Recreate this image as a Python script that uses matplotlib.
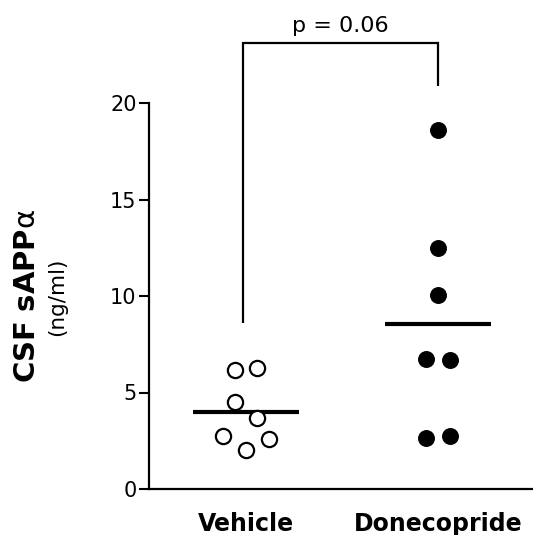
import matplotlib
matplotlib.use("Agg")
import matplotlib.pyplot as plt
import numpy as np

plt.rcParams['font.family'] = ['DejaVu Sans']
plt.rcParams['mathtext.fontset'] = 'dejavusans'

# ---- data ----
categories = ["Vehicle", "Donecopride"]
vehicle = [6.17, 6.27, 4.5, 3.68, 2.75, 2.6, 2.02]
donecopride = [18.6, 12.49, 10.05, 6.74, 6.68, 2.64, 2.75]
y_ticks = [0, 5, 10, 15, 20]
p_text = "p = 0.06"

# horizontal scatter offsets (layout only)
vehicle_jitter = [-0.057, 0.057, -0.057, 0.057, -0.12, 0.12, 0.0]
donecopride_jitter = [0.0, 0.0, 0.0, -0.0625, 0.0625, -0.0625, 0.0625]

W, H = 533, 535
fig = plt.figure(figsize=(W / 100, H / 100), dpi=100)
ax = fig.add_axes([149 / W, (H - 489) / H, 1 - 149 / W, (489 - 103) / H])

ax.scatter(np.array(vehicle_jitter) + 0, vehicle, s=120, facecolors='white',
           edgecolors='black', linewidths=1.6, zorder=3, clip_on=False)
ax.scatter(np.array(donecopride_jitter) + 1, donecopride, s=125, facecolors='black',
           edgecolors='black', linewidths=1.0, zorder=3, clip_on=False)

for i, vals in enumerate([vehicle, donecopride]):
    m = np.mean(vals)
    ax.plot([i - 0.276, i + 0.276], [m, m], color='black', lw=3, solid_capstyle='butt', zorder=2)

# significance bracket
ax.plot([-0.015, -0.015, 1, 1], [8.6, 23.1, 23.1, 20.9], color='black', lw=1.6,
        clip_on=False, solid_capstyle='butt', solid_joinstyle='miter')
ax.text(0.49, 23.68, p_text, ha='center', va='baseline', fontsize=16, clip_on=False)

ax.set_xlim(-0.505, 1.495)
ax.set_ylim(0, 20)
ax.set_yticks(y_ticks)
ax.set_yticklabels([str(t) for t in y_ticks], fontsize=15)
ax.set_xticks([0, 1])
ax.set_xticklabels(categories, fontsize=17, fontweight='bold')
ax.tick_params(axis='x', length=0, pad=16.5)
ax.tick_params(axis='y', length=7, width=1.5, direction='out', pad=2)
for s in ['top', 'right']:
    ax.spines[s].set_visible(False)
for s in ['left', 'bottom']:
    ax.spines[s].set_linewidth(1.6)

fig.text(27 / W, 1 - 296 / H, r"$\mathbf{CSF\ sAPP}\mathrm{\alpha}$", rotation=90,
         ha='center', va='center', fontsize=21)
fig.text(57 / W, 1 - 297 / H, "(ng/ml)", rotation=90, ha='center', va='center', fontsize=15.5)

fig.savefig("out.png", dpi=100)
